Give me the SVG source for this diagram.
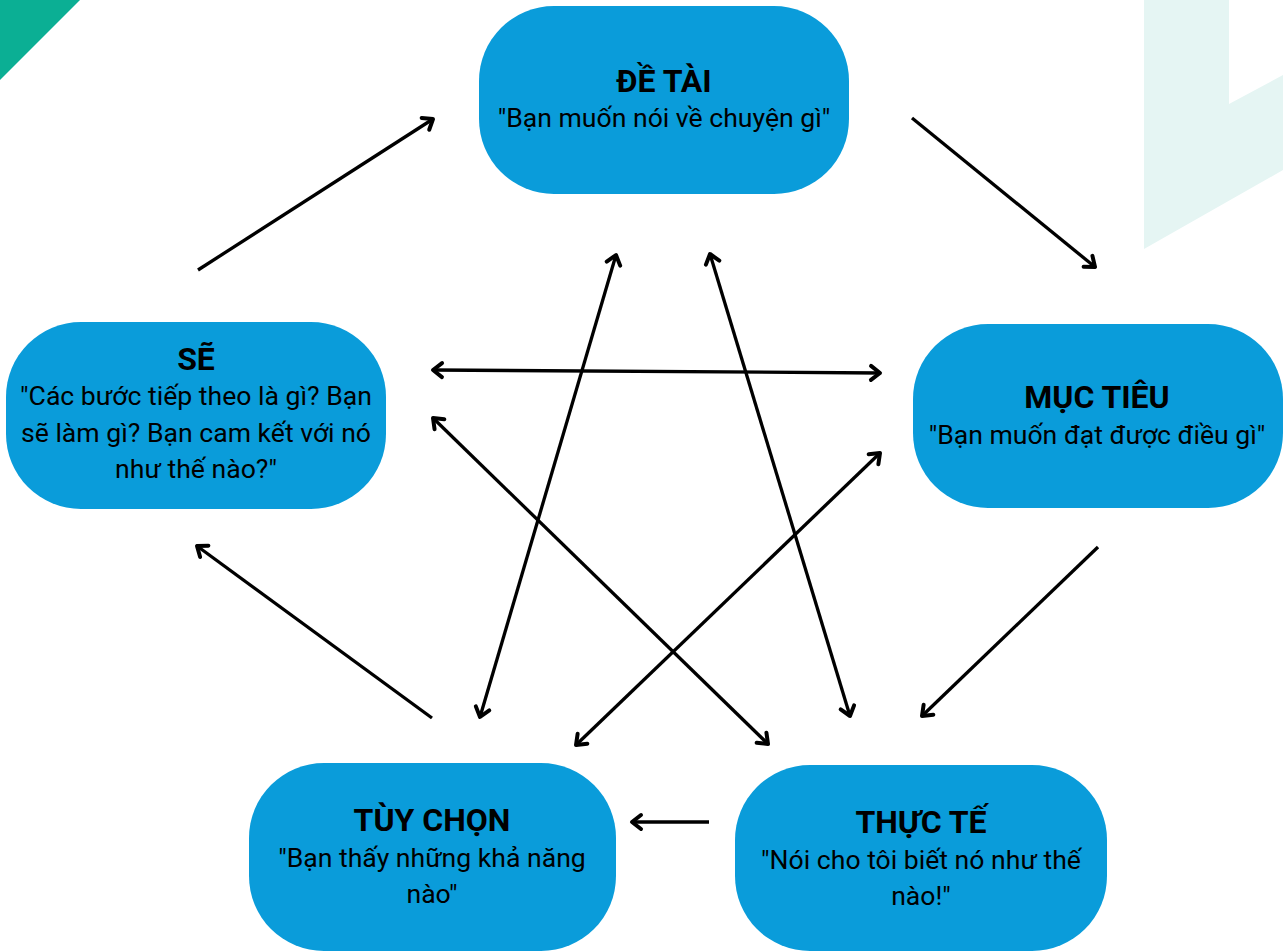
<svg xmlns="http://www.w3.org/2000/svg" width="1283" height="952" viewBox="0 0 1283 952">
<style>
.node{fill:#0A9CDA}
.t{font-family:Roboto,"Liberation Sans",sans-serif;font-weight:bold;font-size:32px;fill:#000;text-anchor:middle}
.s{font-family:Roboto,"Liberation Sans",sans-serif;font-size:26.6px;fill:#000;text-anchor:middle}
.c{stroke:#000;stroke-width:3.3;fill:none}
</style>
<defs>
<marker id="ah" markerUnits="userSpaceOnUse" markerWidth="30" markerHeight="30" refX="0" refY="0" viewBox="-15 -15 30 30" orient="auto-start-reverse">
<path d="M-9,-7 L0,0 L-9,7" fill="none" stroke="#000" stroke-width="4" stroke-linecap="round" stroke-linejoin="round"/>
</marker>
</defs>
<rect width="1283" height="952" fill="#fff"/>
<polygon points="0,0 80,0 0,80" fill="#0BAF94"/>
<polygon points="1144,0 1229,0 1229,104 1283,75 1283,170 1144,249" fill="#E5F5F3"/>
<g id="connectors">
<line class="c" x1="198" y1="270" x2="433" y2="119" marker-end="url(#ah)"/>
<line class="c" x1="912" y1="118" x2="1095" y2="267" marker-end="url(#ah)"/>
<line class="c" x1="1098" y1="547" x2="922" y2="716" marker-end="url(#ah)"/>
<line class="c" x1="709" y1="822" x2="632" y2="822" marker-end="url(#ah)"/>
<line class="c" x1="432" y1="718" x2="197" y2="546" marker-end="url(#ah)"/>
<line class="c" x1="433" y1="370" x2="880" y2="373" marker-start="url(#ah)" marker-end="url(#ah)"/>
<line class="c" x1="616" y1="255" x2="480" y2="717" marker-start="url(#ah)" marker-end="url(#ah)"/>
<line class="c" x1="710" y1="254" x2="850" y2="716" marker-start="url(#ah)" marker-end="url(#ah)"/>
<line class="c" x1="433" y1="418" x2="768" y2="744" marker-start="url(#ah)" marker-end="url(#ah)"/>
<line class="c" x1="880" y1="453" x2="576" y2="745" marker-start="url(#ah)" marker-end="url(#ah)"/>
</g>
<g id="de-tai">
<rect class="node" x="479" y="6" width="370" height="188" rx="75"/>
<text class="t" x="664" y="92">ĐỀ TÀI</text>
<text class="s" x="664" y="127">"Bạn muốn nói về chuyện gì"</text>
</g>
<g id="se">
<rect class="node" x="6" y="322" width="380" height="187" rx="75"/>
<text class="t" x="196" y="370">SẼ</text>
<text class="s" x="196" y="405">"Các bước tiếp theo là gì? Bạn</text>
<text class="s" x="196" y="442">sẽ làm gì? Bạn cam kết với nó</text>
<text class="s" x="196" y="478">như thế nào?"</text>
</g>
<g id="muc-tieu">
<rect class="node" x="913" y="324" width="370" height="184" rx="75"/>
<text class="t" x="1097" y="408">MỤC TIÊU</text>
<text class="s" x="1097" y="444">"Bạn muốn đạt được điều gì"</text>
</g>
<g id="tuy-chon">
<rect class="node" x="249" y="763" width="367" height="188" rx="75"/>
<text class="t" x="432" y="831">TÙY CHỌN</text>
<text class="s" x="432" y="867">"Bạn thấy những khả năng</text>
<text class="s" x="432" y="903">nào"</text>
</g>
<g id="thuc-te">
<rect class="node" x="735" y="765" width="372" height="186" rx="75"/>
<text class="t" x="921" y="833">THỰC TẾ</text>
<text class="s" x="921" y="869">"Nói cho tôi biết nó như thế</text>
<text class="s" x="921" y="905">nào!"</text>
</g>
</svg>
